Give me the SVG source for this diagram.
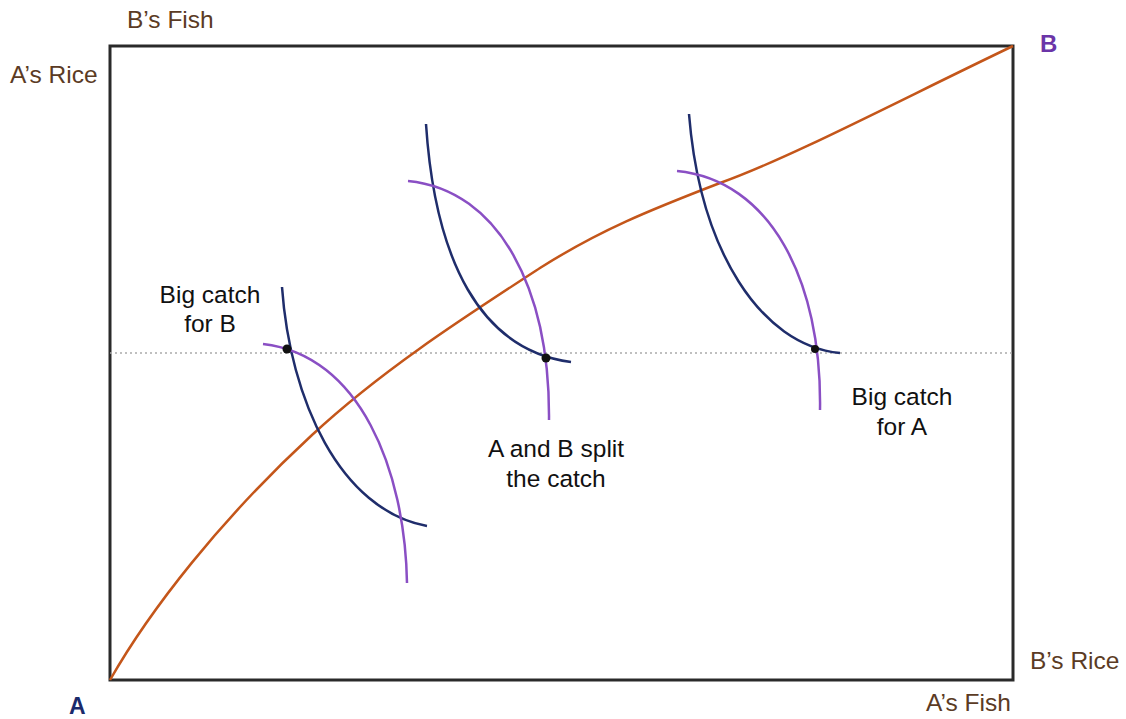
<svg xmlns="http://www.w3.org/2000/svg" width="1126" height="719" viewBox="0 0 1126 719">
<style>
.lbl{font-family:"Liberation Sans",Arial,sans-serif;font-size:24.5px;fill:#5b3b24}
.note{font-family:"Liberation Sans",Arial,sans-serif;font-size:24.5px;fill:#111}
.navy{fill:none;stroke:#1f2d6b;stroke-width:2.5}
.purple{fill:none;stroke:#8a4fc4;stroke-width:2.5}
.dot{fill:#111}
</style>
<rect x="0" y="0" width="1126" height="719" fill="#fff"/>
<g id="box">
<rect x="110" y="46" width="903" height="634" fill="none" stroke="#2a2a2a" stroke-width="3"/>
</g>
<g id="labels">
<text class="lbl" x="127" y="28">B’s Fish</text>
<text class="lbl" x="10" y="83">A’s Rice</text>
<text class="lbl" x="1030" y="669">B’s Rice</text>
<text class="lbl" x="926" y="711">A’s Fish</text>
<text x="1040" y="52" font-family="Liberation Sans,Arial,sans-serif" font-size="24" font-weight="bold" fill="#6b35a8">B</text>
<text x="69" y="714" font-family="Liberation Sans,Arial,sans-serif" font-size="23" font-weight="bold" fill="#1b2a6b">A</text>
</g>
<g id="connectors">
<line x1="110" y1="353" x2="1013" y2="353" stroke="#aaa" stroke-width="1.5" stroke-dasharray="2,3"/>
<path id="contract" d="M110,680 C150,610 220,520 312,435 C381,371 460,320 540,268 C600,230 650,210 720,183 C790,158 900,100 1013,46" fill="none" stroke="#c4561a" stroke-width="2.5"/>
</g>
<g id="left-group">
<path class="navy" d="M282,287 C290,400 340,510 427,526"/>
<path class="purple" d="M263,344 C360,355 405,470 407,583"/>
<circle class="dot" cx="287" cy="349" r="4.5"/>
<text class="note" x="210" y="303" text-anchor="middle">Big catch</text>
<text class="note" x="210" y="332" text-anchor="middle">for B</text>
</g>
<g id="middle-group">
<path class="navy" d="M426,124 C435,260 480,350 571,362"/>
<path class="purple" d="M408,181 C500,190 550,290 549,420"/>
<circle class="dot" cx="546" cy="358" r="4.5"/>
<text class="note" x="556" y="457" text-anchor="middle">A and B split</text>
<text class="note" x="556" y="487" text-anchor="middle">the catch</text>
</g>
<g id="right-group">
<path class="navy" d="M689,114 C700,250 760,345 840,353"/>
<path class="purple" d="M677,171 C770,180 822,280 820,410"/>
<circle class="dot" cx="815" cy="349" r="4"/>
<text class="note" x="902" y="405" text-anchor="middle">Big catch</text>
<text class="note" x="902" y="435" text-anchor="middle">for A</text>
</g>
</svg>
